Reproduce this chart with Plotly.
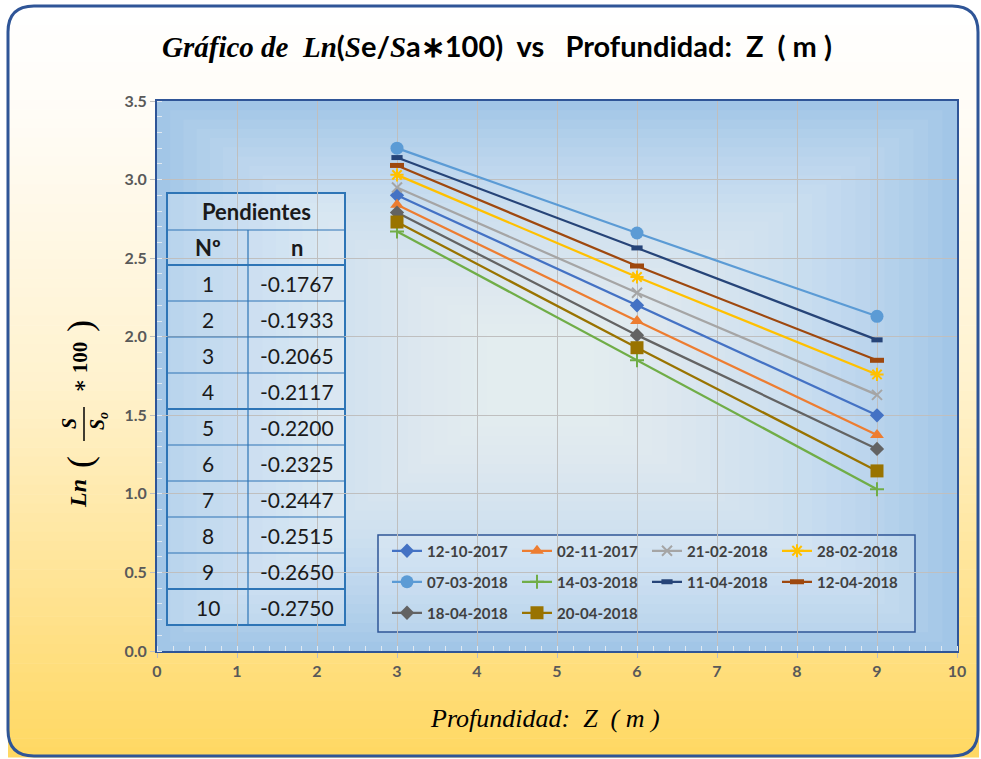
import plotly.graph_objects as go

# ---------------- data ----------------
depth = [3, 6, 9]
series_names = ["12-10-2017", "02-11-2017", "21-02-2018", "28-02-2018", "07-03-2018",
                "14-03-2018", "11-04-2018", "12-04-2018", "18-04-2018", "20-04-2018"]
s_12_10_2017 = [2.90, 2.20, 1.50]
s_02_11_2017 = [2.84, 2.10, 1.375]
s_21_02_2018 = [2.95, 2.28, 1.63]
s_28_02_2018 = [3.03, 2.38, 1.76]
s_07_03_2018 = [3.20, 2.66, 2.13]
s_14_03_2018 = [2.67, 1.85, 1.03]
s_11_04_2018 = [3.14, 2.565, 1.98]
s_12_04_2018 = [3.09, 2.45, 1.85]
s_18_04_2018 = [2.79, 2.01, 1.286]
s_20_04_2018 = [2.73, 1.93, 1.146]
series_values = [s_12_10_2017, s_02_11_2017, s_21_02_2018, s_28_02_2018, s_07_03_2018,
                 s_14_03_2018, s_11_04_2018, s_12_04_2018, s_18_04_2018, s_20_04_2018]

table_no = [1, 2, 3, 4, 5, 6, 7, 8, 9, 10]
table_n = [-0.1767, -0.1933, -0.2065, -0.2117, -0.2200, -0.2325, -0.2447, -0.2515, -0.2650, -0.2750]

# ---------------- styles ----------------
W, H = 981, 759
ML, MR, MT, MB = 157, 24, 101, 108
PW, PH = W - ML - MR, H - MT - MB

def px(x):
    return (x - ML) / PW

def py(y):
    return (H - MB - y) / PH

FONT = "Liberation Sans Narrow, Lato, Open Sans, sans-serif"
SERIF = "Liberation Serif, DejaVu Serif, serif"

styles = [
    dict(color="#4472C4", symbol="diamond", size=11),
    dict(color="#ED7D31", symbol="triangle-up", size=12),
    dict(color="#A5A5A5", symbol="x-thin", size=10, line=dict(width=2, color="#A5A5A5")),
    dict(color="#FFC000", symbol="asterisk", size=11, line=dict(width=2, color="#FFC000")),
    dict(color="#5B9BD5", symbol="circle", size=13),
    dict(color="#70AD47", symbol="cross-thin", size=10, line=dict(width=2, color="#70AD47")),
    dict(color="#264478", symbol="line-ew", size=8, line=dict(width=5, color="#264478")),
    dict(color="#9E480E", symbol="line-ew", size=10, line=dict(width=5, color="#9E480E")),
    dict(color="#636363", symbol="diamond", size=11),
    dict(color="#997300", symbol="square", size=13),
]
legend_ids = ["legend"] * 4 + ["legend2"] * 4 + ["legend3"] * 2

fig = go.Figure()
for name, vals, st, lg in zip(series_names, series_values, styles, legend_ids):
    fig.add_trace(go.Scatter(
        x=depth, y=vals, name=name, mode="lines+markers", legend=lg,
        line=dict(color=st["color"], width=2.25),
        marker=dict(symbol=st["symbol"], size=st["size"], color=st["color"],
                    line=st.get("line", dict(width=0))),
    ))

shapes = []

# page background gradient (vertical)
stops = [(0.0, (255, 255, 255)), (0.15, (255, 252, 246)), (0.5, (255, 242, 206)),
         (0.8, (255, 226, 142)), (1.0, (255, 216, 98))]

def grad(t):
    for (t0, c0), (t1, c1) in zip(stops[:-1], stops[1:]):
        if t <= t1:
            f = (t - t0) / (t1 - t0)
            return tuple(round(a + (b - a) * f) for a, b in zip(c0, c1))
    return stops[-1][1]

NSTRIPE = 80
top, bot = 6, 757
for i in range(NSTRIPE):
    y0 = top + (bot - top) * i / NSTRIPE
    y1 = top + (bot - top) * (i + 1) / NSTRIPE + 0.6
    c = grad((i + 0.5) / NSTRIPE)
    shapes.append(dict(type="rect", xref="paper", yref="paper", layer="below",
                       x0=px(8), x1=px(979), y0=py(y0), y1=py(y1),
                       fillcolor="rgb(%d,%d,%d)" % c, line=dict(width=0)))

# plot-area gradient (blue edges -> light centre)
shapes.append(dict(type="rect", xref="paper", yref="paper", layer="below",
                   x0=0, x1=1, y0=0, y1=1, fillcolor="#9DC3E6", line=dict(width=0)))
cx, cy = px(540), py(375)
N = 26
for i in range(N):
    f = i / N
    shapes.append(dict(type="rect", xref="paper", yref="paper", layer="below",
                       x0=0 + (cx - 0.05 - 0) * f, x1=1 + (cx + 0.05 - 1) * f,
                       y0=0 + (cy - 0.06 - 0) * f, y1=1 + (cy + 0.06 - 1) * f,
                       fillcolor="rgba(255,255,255,0.058)", line=dict(width=0)))

# rounded outer border
r = 26
x0b, x1b, y0b, y1b = 8, 978, 6, 756
def P(x, y):
    return "%f,%f" % (px(x), py(y))
path = ("M " + P(x0b + r, y0b) + " L " + P(x1b - r, y0b) +
        " Q " + P(x1b, y0b) + " " + P(x1b, y0b + r) +
        " L " + P(x1b, y1b - r) + " Q " + P(x1b, y1b) + " " + P(x1b - r, y1b) +
        " L " + P(x0b + r, y1b) + " Q " + P(x0b, y1b) + " " + P(x0b, y1b - r) +
        " L " + P(x0b, y0b + r) + " Q " + P(x0b, y0b) + " " + P(x0b + r, y0b) + " Z")
shapes.append(dict(type="path", xref="paper", yref="paper", path=path,
                   line=dict(color="#2F5597", width=3), layer="above"))

# legend box
shapes.append(dict(type="rect", xref="paper", yref="paper", layer="below",
                   x0=px(378), x1=px(915), y0=py(632), y1=py(535),
                   fillcolor="rgba(255,255,255,0.18)", line=dict(color="#2F5597", width=1.5)))

# ---------------- table ----------------
tl, tm, tr = 167, 248, 345
row_top = 193
hdr1, hdr2 = 37, 35
rowh = 36
rows_start = row_top + hdr1 + hdr2
nrows = len(table_no)
tb = rows_start + rowh * nrows
TBLUE = "#2E75B6"
shapes.append(dict(type="rect", xref="paper", yref="paper", layer="below",
                   x0=px(tl), x1=px(tr), y0=py(tb), y1=py(row_top),
                   fillcolor="rgba(255,255,255,0.22)", line=dict(color=TBLUE, width=2)))
def hline(y, w):
    shapes.append(dict(type="line", xref="paper", yref="paper",
                       x0=px(tl), x1=px(tr), y0=py(y), y1=py(y), line=dict(color=TBLUE, width=w)))
hline(row_top + hdr1, 1.2)
hline(rows_start, 2.2)
for i in range(1, nrows):
    hline(rows_start + rowh * i, 2.2 if i in (4, 9) else 1.2)
shapes.append(dict(type="line", xref="paper", yref="paper",
                   x0=px(tm), x1=px(tm), y0=py(row_top + hdr1), y1=py(tb),
                   line=dict(color=TBLUE, width=1.2)))

annotations = []
def txt(x, y, s, size=20, bold=False, color="#1a1a1a", family=FONT, angle=0, anchor="center"):
    annotations.append(dict(xref="paper", yref="paper", x=px(x), y=py(y),
                            text=("<b>%s</b>" % s) if bold else s, showarrow=False,
                            font=dict(family=family, size=size, color=color),
                            xanchor=anchor, yanchor="middle", textangle=angle))

txt((tl + tr) / 2, row_top + hdr1 / 2, "Pendientes", 22, True)
txt((tl + tm) / 2, row_top + hdr1 + hdr2 / 2, "Nº", 22, True)
txt((tm + tr) / 2, row_top + hdr1 + hdr2 / 2, "n", 22, True)
for i, (no, n) in enumerate(zip(table_no, table_n)):
    yc = rows_start + rowh * i + rowh / 2
    txt((tl + tm) / 2, yc, str(no), 21)
    txt((tm + tr) / 2, yc, "%.4f" % n, 21)

# ---------------- titles ----------------
txt(497, 45,
    '<span style="font-family:Liberation Serif"><i>Gráfico de  Ln</i></span>'
    '(<span style="font-family:Liberation Serif"><i>S</i></span>e/'
    '<span style="font-family:Liberation Serif"><i>S</i></span>a∗100)  vs   Profundidad:  Z  ( m )',
    29, True, "#000000")
txt(545, 718, "<i>Profundidad:  Z  ( m )</i>", 26, False, "#000000", SERIF)

# y-axis title built from pieces (fraction S / S_o)
YT = "#000000"
txt(78, 494, "<b><i>Ln</i></b>", 24, False, YT, SERIF, -90)
txt(80, 462, "(", 36, False, YT, SERIF, -90)
txt(69, 424, "<b><i>S</i></b>", 20, False, YT, SERIF, -90)
txt(98, 421, "<b><i>S<sub>o</sub></i></b>", 20, False, YT, SERIF, -90)
shapes.append(dict(type="line", xref="paper", yref="paper",
                   x0=px(84), x1=px(84), y0=py(407), y1=py(441),
                   line=dict(color=YT, width=1.5)))
txt(80, 368, "<b>∗ 100</b>", 21, False, YT, SERIF, -90)
txt(80, 326, ")", 36, False, YT, SERIF, -90)

legend_common = dict(orientation="h", xanchor="left", yanchor="middle",
                     bgcolor="rgba(0,0,0,0)", borderwidth=0,
                     entrywidth=85, entrywidthmode="pixels",
                     font=dict(family=FONT, size=15, color="#404040", weight="bold"),
                     traceorder="normal")

fig.update_layout(
    width=W, height=H, margin=dict(l=ML, r=MR, t=MT, b=MB),
    paper_bgcolor="#FFFFFF", plot_bgcolor="rgba(0,0,0,0)",
    showlegend=True,
    legend=dict(x=px(387), y=py(551), **legend_common),
    legend2=dict(x=px(387), y=py(582), **legend_common),
    legend3=dict(x=px(387), y=py(613), **legend_common),
    shapes=shapes, annotations=annotations,
    xaxis=dict(range=[0, 10], dtick=1, showgrid=True, gridcolor="#BFBFBF", gridwidth=1,
               zeroline=False, showline=True, linecolor="#2F5597", linewidth=2, mirror=True,
               ticks="outside", ticklen=5, tickcolor="#BFBFBF",
               tickfont=dict(family=FONT, size=16, color="#595959", weight="bold"),
               minor=dict(dtick=0.2, ticks="inside", ticklen=5, tickcolor="#E0E8F0", showgrid=False)),
    yaxis=dict(range=[0, 3.5], dtick=0.5, tickformat=".1f", showgrid=True, gridcolor="#BFBFBF",
               gridwidth=1, zeroline=False, showline=True, linecolor="#2F5597", linewidth=2, mirror=True,
               ticks="outside", ticklen=5, tickcolor="#BFBFBF",
               tickfont=dict(family=FONT, size=16, color="#595959", weight="bold"),
               minor=dict(dtick=0.1, ticks="inside", ticklen=5, tickcolor="#E0E8F0", showgrid=False)),
)

fig.write_html("out.html")
